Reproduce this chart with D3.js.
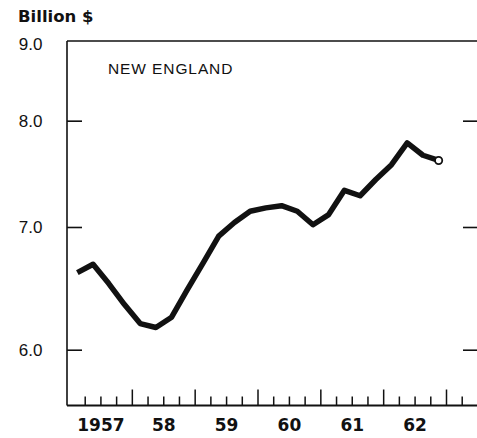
<!DOCTYPE html>
<html>
<head>
<meta charset="utf-8">
<script src="https://cdn.jsdelivr.net/npm/d3@7"></script>
<style>
  html, body { margin: 0; padding: 0; background: #fff; }
  svg { display: block; }
</style>
</head>
<body>
<div id="chart"></div>
<script>
// ---- data (quarterly, billion $) ----
const years = [1957, 1958, 1959, 1960, 1961, 1962];
const quarters = [1, 2, 3, 4];
const values = [
  6.61, 6.68, 6.52, 6.35,   // 1957
  6.20, 6.17, 6.25, 6.47,   // 1958
  6.69, 6.92, 7.04, 7.14,   // 1959
  7.17, 7.19, 7.14, 7.02,   // 1960
  7.11, 7.33, 7.28, 7.43,   // 1961
  7.57, 7.78, 7.66, 7.61    // 1962
];
const yTickValues = [6, 7, 8];
const yTickLabels = ["6.0", "7.0", "8.0"];
const yTopLabel = "9.0";
const xTickLabels = ["1957", "58", "59", "60", "61", "62"];
const unitLabel = "Billion $";
const regionLabel = "NEW ENGLAND";

// ---- layout ----
const W = 477, H = 438;
const frame = { left: 67, right: 478, top: 41, bottom: 405.5 };

const svg = d3.select("#chart").append("svg")
  .attr("width", W).attr("height", H);

const x = d3.scaleLinear().domain([1957, 1963]).range([69.5, 446.5]);
const y = d3.scaleLog().domain([5.594, 8.842]).range([frame.bottom, frame.top]);

const pts = [];
years.forEach((yr, i) => quarters.forEach((q, j) => {
  pts.push({ t: yr + (q - 0.5) / 4, v: values[i * 4 + j] });
}));

const ink = "#111";

// frame: left, top, bottom
svg.append("line").attr("x1", frame.left).attr("x2", frame.left)
  .attr("y1", frame.top).attr("y2", frame.bottom)
  .attr("stroke", ink).attr("stroke-width", 1.6);
svg.append("line").attr("x1", frame.left).attr("x2", W)
  .attr("y1", frame.top).attr("y2", frame.top)
  .attr("stroke", ink).attr("stroke-width", 1.6);
svg.append("line").attr("x1", frame.left).attr("x2", W)
  .attr("y1", frame.bottom).attr("y2", frame.bottom)
  .attr("stroke", ink).attr("stroke-width", 1.8);

// y ticks left and right
const yAxisL = d3.axisRight(y).tickValues(yTickValues).tickSize(15)
  .tickFormat("");
const gL = svg.append("g").attr("transform", `translate(${frame.left},0)`).call(yAxisL);
gL.select(".domain").remove();
gL.selectAll(".tick line").attr("stroke", ink).attr("stroke-width", 1.6);

const yAxisR = d3.axisLeft(y).tickValues(yTickValues).tickSize(15).tickFormat("");
const gR = svg.append("g").attr("transform", `translate(${frame.right},0)`).call(yAxisR);
gR.select(".domain").remove();
gR.selectAll(".tick line").attr("stroke", ink).attr("stroke-width", 1.6);

// y labels
svg.selectAll("text.ylab").data(yTickValues).enter().append("text")
  .attr("class", "ylab")
  .attr("x", 42.5).attr("y", d => y(d))
  .attr("dy", "0.36em")
  .attr("text-anchor", "end")
  .attr("font-family", "Liberation Sans, Arial, sans-serif")
  .attr("font-size", 17)
  .attr("fill", ink)
  .text((d, i) => yTickLabels[i]);
svg.append("text")
  .attr("x", 42.5).attr("y", y.range()[1] + 3)
  .attr("dy", "0.36em")
  .attr("text-anchor", "end")
  .attr("font-family", "Liberation Sans, Arial, sans-serif")
  .attr("font-size", 17)
  .attr("fill", ink)
  .text(yTopLabel);

// unit label
svg.append("text")
  .attr("x", 18).attr("y", 22)
  .attr("font-family", "DejaVu Sans, sans-serif")
  .attr("font-weight", "bold")
  .attr("font-size", 16.5)
  .attr("fill", ink)
  .text(unitLabel);

// region label
svg.append("text")
  .attr("x", 108).attr("y", 74)
  .attr("font-family", "Liberation Sans, Arial, sans-serif")
  .attr("font-size", 15.5)
  .attr("letter-spacing", 0.9)
  .attr("fill", ink)
  .text(regionLabel);

// x ticks (quarters, taller at year boundaries)
const qTicks = d3.range(1957.25, 1963.26, 0.25);
svg.selectAll("line.xt").data(qTicks).enter().append("line")
  .attr("class", "xt")
  .attr("x1", d => x(d)).attr("x2", d => x(d))
  .attr("y1", frame.bottom)
  .attr("y2", d => Math.abs(d - Math.round(d)) < 1e-6 ? frame.bottom - 16 : frame.bottom - 9)
  .attr("stroke", ink).attr("stroke-width", 1.5);

// x labels centered in each year
svg.selectAll("text.xlab").data(years).enter().append("text")
  .attr("class", "xlab")
  .attr("x", d => x(d + 0.5)).attr("y", 431)
  .attr("text-anchor", "middle")
  .attr("font-family", "DejaVu Sans, sans-serif")
  .attr("font-weight", "bold")
  .attr("font-size", 17)
  .attr("fill", ink)
  .text((d, i) => xTickLabels[i]);

// data line
const line = d3.line().x(d => x(d.t)).y(d => y(d.v));
svg.append("path").datum(pts)
  .attr("d", line)
  .attr("fill", "none")
  .attr("stroke", ink)
  .attr("stroke-width", 5.5)
  .attr("stroke-linejoin", "round")
  .attr("stroke-linecap", "butt");

// open circle on last point
const last = pts[pts.length - 1];
svg.append("circle")
  .attr("cx", x(last.t)).attr("cy", y(last.v))
  .attr("r", 3.6)
  .attr("fill", "#fff")
  .attr("stroke", ink)
  .attr("stroke-width", 1.8);
</script>
</body>
</html>
